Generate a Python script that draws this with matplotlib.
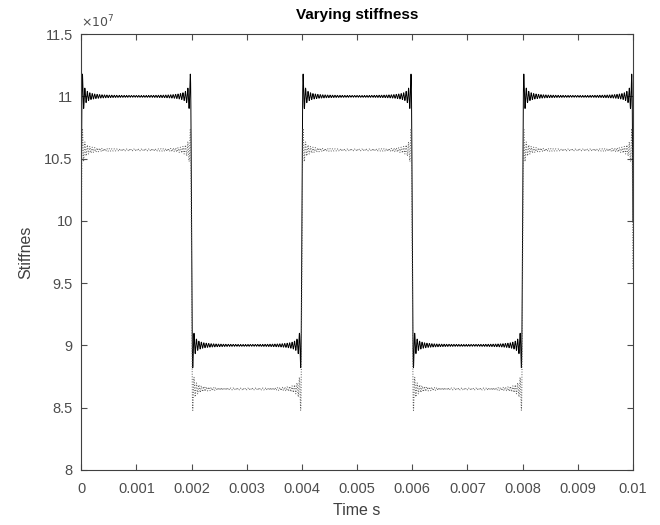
import numpy as np
import matplotlib.pyplot as plt

plt.rcParams['font.family'] = ['Liberation Sans', 'DejaVu Sans']

# stiffness levels (N/m) for the two curves: [solid, dotted]
k_high = [11.0e7, 10.57e7]
k_low = [9.0e7, 8.65e7]
styles = ['-', ':']
period = 0.004          # s, switching period of the stiffness
n_harm = 45             # odd harmonics kept in the series
t_end = 0.01

t = np.linspace(0, t_end, 20001)

fig = plt.figure(figsize=(6.6, 5.25), dpi=100)
ax = fig.add_axes([0.123, 0.105, 0.836, 0.83])

for hi, lo, ls in zip(k_high, k_low, styles):
    mean = (hi + lo) / 2
    amp = (hi - lo) / 2
    k = np.full_like(t, mean)
    for n in range(1, 2 * n_harm, 2):
        k += amp * 4 / (np.pi * n) * np.sin(2 * np.pi * n * t / period)
    if ls == '-':
        ax.plot(t, k, ls, color='black', lw=0.7)
    else:
        ax.plot(t, k, ls, color='0.35', lw=0.7)

ax.set_xlim(0, t_end)
ax.set_ylim(8e7, 11.5e7)
ax.set_xticks(np.arange(0, 0.0101, 0.001))
ax.set_xticklabels(['0', '0.001', '0.002', '0.003', '0.004', '0.005',
                    '0.006', '0.007', '0.008', '0.009', '0.01'])
yt = np.arange(8, 11.51, 0.5)
ax.set_yticks(yt * 1e7)
ax.set_yticklabels(['%g' % v for v in yt])
ax.text(0, 1.008, r'$\times10^{7}$', transform=ax.transAxes, fontsize=9,
        color='0.3', va='bottom', ha='left')

ax.tick_params(direction='in', length=4, top=True, right=True,
               labelsize=10.5, colors='0.3')
ax.tick_params(axis='x', pad=9)
ax.tick_params(axis='y', pad=6)
for s in ax.spines.values():
    s.set_color('0.25')
    s.set_linewidth(0.8)

ax.set_title('Varying stiffness', fontsize=11, fontweight='bold', pad=11)
ax.set_xlabel('Time s', fontsize=11.5, color='0.25', labelpad=5)
ax.set_ylabel('Stiffnes', fontsize=11.5, color='0.25', labelpad=8)

fig.savefig('out.png', dpi=100)
